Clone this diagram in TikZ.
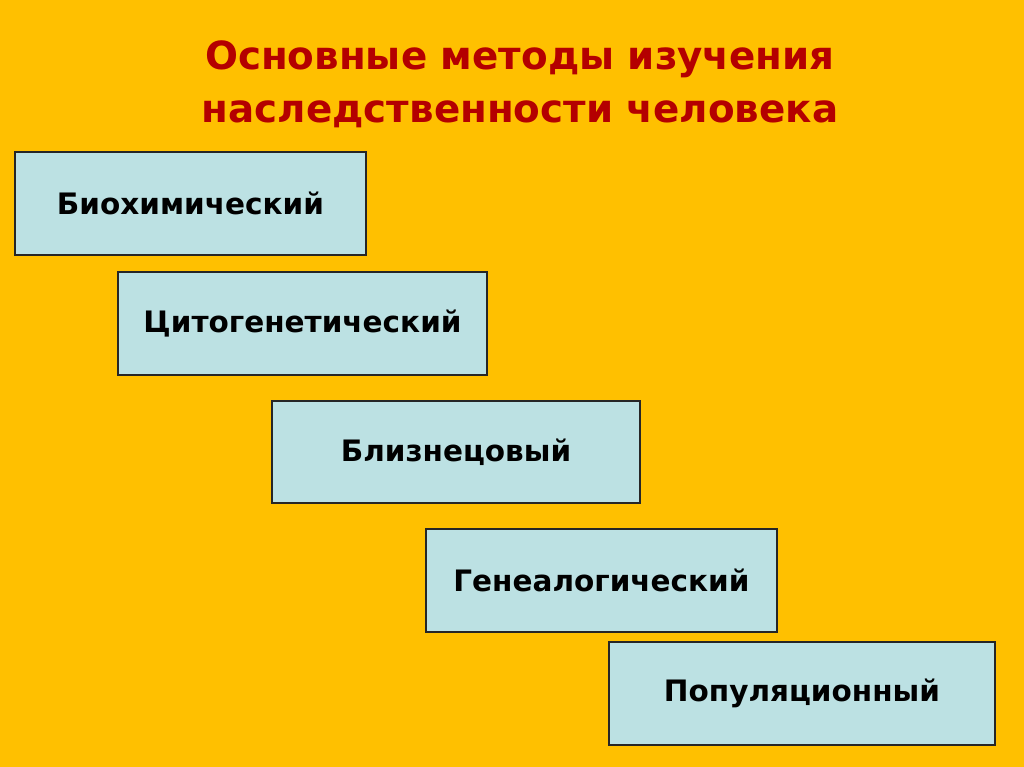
\documentclass[tikz,border=0pt]{standalone}
\usepackage{fontspec}
\setmainfont{DejaVu Sans}
\definecolor{bg}{HTML}{FFC000}
\definecolor{boxfill}{HTML}{BCE1E3}
\definecolor{titlered}{HTML}{B40000}
\begin{document}
\begin{tikzpicture}[x=1pt,y=-1pt,
  method/.style={draw=black!85,line width=1.2pt,fill=boxfill},
  methodtext/.style={font=\bfseries\fontsize{29.5}{32}\selectfont,text=black},
  titletext/.style={font=\bfseries\fontsize{38.8}{53}\selectfont,text=titlered,align=center}]
\fill[bg] (0,0) rectangle (1024,767);
\useasboundingbox (0,0) rectangle (1024,767);
\node[titletext] (title) at (520,84) {Основные методы изучения\\наследственности человека};
\path[method] (15,152) rectangle (366,255);
\node[methodtext] (m1) at (190.5,203.5) {Биохимический};
\path[method] (118,272) rectangle (487,375);
\node[methodtext] (m2) at (302.5,323.5) {Цитогенетический};
\path[method] (272,401) rectangle (640,503);
\node[methodtext] (m3) at (456,452) {Близнецовый};
\path[method] (426,529) rectangle (777,632);
\node[methodtext] (m4) at (601.5,580.5) {Генеалогический};
\path[method] (609,642) rectangle (995,745);
\node[methodtext] (m5) at (802,693.5) {Популяционный};
\end{tikzpicture}
\end{document}
